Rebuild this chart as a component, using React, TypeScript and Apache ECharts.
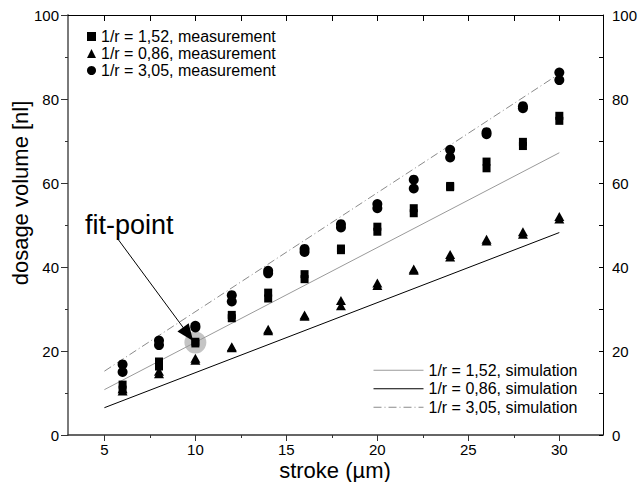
import React, { useEffect, useRef } from "react";
import * as echarts from "echarts";

const strokes = [6, 8, 10, 12, 14, 16, 18, 20, 22, 24, 26, 28, 30];
const sqA = [12.0, 17.5, 22.2, 28.6, 33.9, 38.3, 44.4, 49.6, 54.0, 59.3, 65.1, 69.8, 76.0];
const sqB = [10.8, 16.3, 21.8, 27.8, 32.5, 37.1, 44.0, 48.4, 52.8, 59.0, 63.5, 68.8, 74.8];
const triA = [11.0, 15.2, 18.3, 21.0, 25.2, 28.6, 32.0, 36.2, 39.5, 43.0, 46.6, 48.4, 52.0];
const triB = [10.5, 14.6, 17.8, 20.8, 24.8, 28.3, 30.8, 35.6, 39.2, 42.4, 46.2, 47.8, 51.4];
const cirA = [16.8, 22.5, 26.0, 33.3, 39.1, 44.3, 50.2, 55.0, 60.8, 67.9, 72.1, 78.3, 86.3];
const cirB = [15.0, 21.4, 25.6, 31.8, 38.5, 43.6, 49.4, 54.0, 58.7, 66.1, 71.6, 77.8, 84.5];

const simX = [5, 30];
const sim152 = [10.8, 67.2];
const sim086 = [6.5, 48.2];
const sim305 = [15.2, 86.0];

const fitPoint = [10, 22.0];
const arrowFrom = [5.7, 46.9];
const arrowTo = [9.6, 24.0];

const xLabelTicks = [5, 10, 15, 20, 25, 30];
const xMinorTicks = [7.5, 12.5, 17.5, 22.5, 27.5];
const xTopTicks = [5, 7.5, 10, 12.5, 15, 17.5, 20, 22.5, 25, 27.5, 30];

const measNames = [
  "1/r = 1,52, measurement",
  "1/r = 0,86, measurement",
  "1/r = 3,05, measurement",
];
const simNames = [
  "1/r = 1,52, simulation",
  "1/r = 0,86, simulation",
  "1/r = 3,05, simulation",
];

const FONT = "'Liberation Sans', Arial, Helvetica, sans-serif";

const pairs = (a: number[], b: number[]) => {
  const out: number[][] = [];
  strokes.forEach((x, i) => {
    out.push([x, a[i]]);
    out.push([x, b[i]]);
  });
  return out;
};

export default function App() {
  const ref = useRef<HTMLDivElement>(null);
  useEffect(() => {
    if (!ref.current) return;
    const chart = echarts.init(ref.current, null, { renderer: "svg" });
    const xMin = 3;
    const xMax = 32.4;
    const option: any = {
      animation: false,
      backgroundColor: "#fff",
      textStyle: { fontFamily: FONT, color: "#000" },
      grid: { left: 68, top: 15, right: 38, bottom: 47 },
      legend: [
        {
          orient: "vertical",
          left: 87,
          top: 28,
          padding: 0,
          itemGap: 0,
          itemWidth: 9,
          itemHeight: 9,
          textStyle: { fontFamily: FONT, fontSize: 16, color: "#000", lineHeight: 17 },
          data: [
            { name: measNames[0], icon: "rect" },
            { name: measNames[1], icon: "triangle" },
            { name: measNames[2], icon: "circle" },
          ],
          selectedMode: false,
        },
        {
          orient: "vertical",
          left: 373,
          top: 361,
          padding: 0,
          itemGap: 0,
          itemWidth: 50,
          itemHeight: 10,
          itemStyle: { opacity: 0 },
          lineStyle: { width: 1 },
          textStyle: { fontFamily: FONT, fontSize: 16, color: "#000", lineHeight: 18.5 },
          data: simNames,
          selectedMode: false,
        },
      ],
      xAxis: [
        {
          type: "value",
          position: "bottom",
          min: xMin,
          max: xMax,
          axisLine: { show: true, lineStyle: { color: "#333", width: 1.5 } },
          axisTick: { show: true, length: 6, customValues: xLabelTicks, lineStyle: { color: "#333" } },
          axisLabel: {
            show: true,
            customValues: xLabelTicks,
            fontSize: 15,
            color: "#000",
            margin: 7,
            fontFamily: FONT,
          },
          splitLine: { show: false },
        },
        {
          type: "value",
          position: "bottom",
          min: xMin,
          max: xMax,
          axisLine: { show: false },
          axisTick: { show: true, length: 3, customValues: xMinorTicks, lineStyle: { color: "#333" } },
          axisLabel: { show: false },
          splitLine: { show: false },
        },
        {
          type: "value",
          position: "top",
          min: xMin,
          max: xMax,
          axisLine: { show: true, lineStyle: { color: "#000", width: 1 } },
          axisTick: { show: true, inside: true, length: 6, customValues: xTopTicks, lineStyle: { color: "#000" } },
          axisLabel: { show: false },
          splitLine: { show: false },
        },
      ],
      yAxis: [
        {
          type: "value",
          position: "left",
          min: 0,
          max: 100,
          interval: 20,
          axisLine: { show: true, lineStyle: { color: "#7a7a7a", width: 2 } },
          axisTick: { show: true, length: 7, lineStyle: { color: "#333" } },
          minorTick: { show: true, splitNumber: 2, length: 3, lineStyle: { color: "#333" } },
          axisLabel: { fontSize: 15, color: "#000", margin: 9, fontFamily: FONT },
          splitLine: { show: false },
        },
        {
          type: "value",
          position: "right",
          min: 0,
          max: 100,
          interval: 20,
          axisLine: { show: true, lineStyle: { color: "#000", width: 1 } },
          axisTick: { show: true, inside: true, length: 4, lineStyle: { color: "#000" } },
          minorTick: { show: true, splitNumber: 2, length: 4, lineStyle: { color: "#000" } },
          axisLabel: { fontSize: 15, color: "#000", margin: 9, fontFamily: FONT },
          splitLine: { show: false },
        },
      ],
      series: [
        {
          name: "fit-point",
          type: "scatter",
          data: [fitPoint],
          symbol: "circle",
          symbolSize: 22,
          itemStyle: { color: "#c4c4c4", opacity: 1 },
          z: 1,
          silent: true,
          markLine: {
            silent: true,
            symbol: ["none", "triangle"],
            symbolSize: [14, 17],
            lineStyle: { color: "#000", width: 1, type: "solid" },
            itemStyle: { color: "#000" },
            label: { show: false },
            data: [[{ coord: arrowFrom }, { coord: arrowTo }]],
          },
        },
        {
          name: simNames[0],
          type: "line",
          data: simX.map((x, i) => [x, sim152[i]]),
          symbol: "none",
          lineStyle: { color: "#9a9a9a", width: 1 },
          itemStyle: { color: "#9a9a9a" },
          z: 2,
        },
        {
          name: simNames[1],
          type: "line",
          data: simX.map((x, i) => [x, sim086[i]]),
          symbol: "none",
          lineStyle: { color: "#000", width: 1 },
          itemStyle: { color: "#000" },
          z: 2,
        },
        {
          name: simNames[2],
          type: "line",
          data: simX.map((x, i) => [x, sim305[i]]),
          symbol: "none",
          lineStyle: { color: "#8a8a8a", width: 1, type: [8, 3, 1, 3] },
          itemStyle: { color: "#8a8a8a" },
          z: 2,
        },
        {
          name: measNames[0],
          type: "scatter",
          data: pairs(sqA, sqB),
          symbol: "rect",
          symbolSize: 8,
          itemStyle: { color: "#000", opacity: 1 },
          z: 3,
        },
        {
          name: measNames[1],
          type: "scatter",
          data: pairs(triA, triB),
          symbol: "triangle",
          symbolSize: [10, 9],
          itemStyle: { color: "#000", opacity: 1 },
          z: 3,
        },
        {
          name: measNames[2],
          type: "scatter",
          data: pairs(cirA, cirB),
          symbol: "circle",
          symbolSize: 10,
          itemStyle: { color: "#000", opacity: 1 },
          z: 3,
        },
      ],
      graphic: [
        {
          type: "text",
          x: 20,
          y: 193,
          rotation: Math.PI / 2,
          style: {
            text: "dosage volume [nl]",
            fontSize: 22,
            fontFamily: FONT,
            fill: "#000",
            align: "center",
            verticalAlign: "middle",
          },
        },
        {
          type: "text",
          x: 335,
          y: 470,
          style: {
            text: "stroke (µm)",
            fontSize: 22,
            fontFamily: FONT,
            fill: "#000",
            align: "center",
            verticalAlign: "middle",
          },
        },
        {
          type: "text",
          x: 85,
          y: 225,
          style: {
            text: "fit-point",
            fontSize: 27,
            fontFamily: FONT,
            fill: "#000",
            align: "left",
            verticalAlign: "middle",
          },
        },
      ],
    };
    chart.setOption(option);
    return () => chart.dispose();
  }, []);
  return <div ref={ref} style={{ width: 641, height: 482, position: "absolute", left: 0, top: 0 }} />;
}
